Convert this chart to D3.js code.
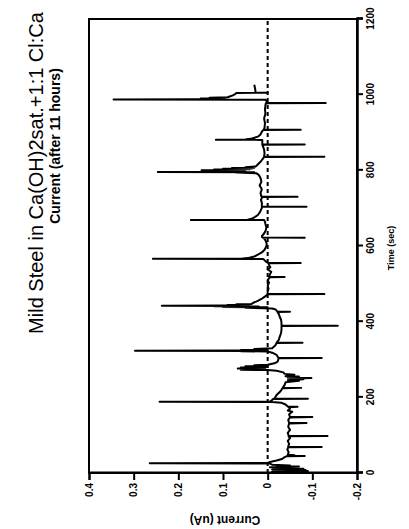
<!DOCTYPE html>
<html><head><meta charset="utf-8">
<script src="https://cdn.jsdelivr.net/npm/d3@7"></script>
<style>body{margin:0;background:#fff}svg{display:block}</style>
</head><body>
<script>
const title = "Mild Steel in Ca(OH)2sat.+1:1  Cl:Ca";
const subtitle = "Current (after 11 hours)";
const xLabel = "Time (sec)";
const yLabel = "Current (uA)";
const timeTicks = [0, 200, 400, 600, 800, 1000, 1200];
const currentTicks = [0.4, 0.3, 0.2, 0.1, 0, -0.1, -0.2];
const currentTickLabels = ["0.4", "0.3", "0.2", "0.1", "0", "-0.1", "-0.2"];
// [time (sec), current (uA)]
const trace = [
[0,-0.02],[2,-0.07],[3,-0.01],[5,-0.09],[6,-0.02],[8,-0.085],[9,-0.01],[11,-0.08],[12,-0.03],[14,-0.06],[15,-0.005],[17,-0.07],[18,-0.02],[20,-0.05],[22,-0.01],
[25,-0.005],[26,0.264],[26.6,0.0],[29,-0.005],[33,-0.02],[37,-0.032],[42,-0.038],
[44,-0.042],[45,-0.083],[45.6,-0.045],[47,-0.06],[48,-0.045],
[55,-0.047],[62,-0.044],[68,-0.046],[69,-0.121],[69.6,-0.046],
[77,-0.048],[85,-0.045],[92,-0.05],[97,-0.047],[98,-0.134],[98.6,-0.047],
[106,-0.045],[114,-0.05],[122,-0.046],[131,-0.048],[132,-0.087],[132.6,-0.048],
[140,-0.046],[147,-0.05],[148,-0.1],[148.6,-0.05],
[155,-0.048],[162,-0.055],[165,-0.045],[170,-0.05],[174,-0.047],[175,-0.067],[175.6,-0.045],
[181,-0.04],[186,-0.03],[187.5,-0.01],[188,0.242],[188.6,-0.005],[193,-0.01],[195.5,-0.012],[196,-0.09],[196.6,-0.015],
[206,-0.02],[214,-0.027],[220,-0.031],[224,-0.033],[225,-0.075],[225.6,-0.034],[233,-0.038],[240,-0.04],
[244,-0.07],[245,-0.045],[248,-0.08],[249,-0.05],[251,-0.098],[251.6,-0.045],[255,-0.07],[256,-0.04],[260,-0.06],[262,-0.038],[266,-0.035],[270,-0.02],
[272,0.0],[273,0.06],[274,0.005],[276,0.067],[277,0.01],[279,0.06],[280,0.0],[282,0.05],[283,0.0],[285,0.03],[286,0.0],
[290,-0.015],[294,-0.022],[300,-0.024],[303.5,-0.024],[304,-0.121],[304.6,-0.024],[312,-0.02],[318,-0.01],[321,0.0],
[322,0.06],[322.5,0.01],[323,0.297],[323.6,0.08],[324.2,0.02],[325,0.06],[326,0.0],[328,0.03],[330,-0.01],
[337,-0.017],[343.5,-0.02],[344,-0.078],[344.6,-0.02],[352,-0.025],[360,-0.027],[370,-0.03],[380,-0.031],[388.5,-0.031],[389,-0.157],[389.6,-0.031],
[397,-0.031],[405,-0.03],[413,-0.027],[420,-0.025],[425.5,-0.022],[426,-0.05],[426.6,-0.022],[432,-0.018],[435,-0.01],
[437,0.05],[438,0.0],[439,0.1],[440,0.02],[441,0.12],[441.5,0.04],[442,0.237],[442.6,0.1],[443.3,0.04],[444,0.09],[445,0.04],[446,0.07],[447,0.036],
[450,0.032],[455,0.022],[460,0.014],[465,0.008],[469,0.003],[472.5,0.001],[473,-0.127],[473.6,0.0],
[480,0.0],[487,-0.002],[495,0.0],[503,-0.003],[510,0.0],[517.5,-0.005],[518,-0.038],[518.6,-0.003],[525,-0.005],[532,-0.008],[538,0.0],[544,-0.006],[550,-0.003],
[554.5,-0.002],[555,-0.074],[555.6,0.0],[560,0.005],[565.5,0.01],[566,0.257],[566.6,0.06],
[568,0.045],[572,0.03],[577,0.022],[583,0.013],[590,0.007],[597,0.004],[603,0.002],[610,0.003],[617,0.006],[621.5,0.01],[622,-0.083],[622.6,0.012],
[626,0.013],[633,0.008],[642,0.004],[650,0.003],[658,0.005],[664,0.006],[668.5,0.008],[669,0.172],[669.6,0.045],
[672,0.036],[677,0.028],[682,0.022],[690,0.017],[701,0.013],[703.5,0.013],[704,-0.087],[704.6,0.013],[714,0.013],[722,0.015],[729.5,0.012],[730,-0.067],[730.6,0.014],
[740,0.016],[750,0.013],[760,0.018],[770,0.014],[780,0.016],[788,0.02],[792,0.025],
[794,0.07],[795,0.03],[795.5,0.246],[796.2,0.1],[797,0.05],[798,0.13],[799,0.06],[800,0.148],[801,0.05],[802,0.12],[803,0.04],[804,0.1],[805,0.035],[806,0.08],[807,0.03],[808,0.05],[810,0.028],
[812,0.025],[818,0.02],[824,0.015],[830,0.011],[835.5,0.008],[836,-0.127],[836.6,0.008],[845,0.007],[855,0.008],[862,0.01],[867.5,0.012],[868,-0.083],[868.6,0.012],
[875,0.012],[880.5,0.012],[881,0.116],[881.6,0.05],
[884,0.035],[889,0.022],[895,0.016],[902,0.013],[906.5,0.01],[907,-0.074],[907.6,0.009],[913,0.007],[925,0.006],[937,0.008],[950,0.005],[962,0.006],[972,0.005],
[977.5,0.004],[978,-0.13],[978.6,0.003],[983,0.002],[986.5,0.005],[987,0.345],[987.6,0.17],
[988.5,0.1],[990,0.15],[991,0.095],[992,0.13],[993,0.09],[995,0.085],[998,0.078],[1002,0.072],[1004.5,0.07],[1005,0.0],[1005.5,0.027],[1015,0.028],[1026,0.03]
];

const W = 409, H = 529;
const svg = d3.select("body").append("svg").attr("width", W).attr("height", H);
// chart is drawn in an unrotated frame (529 x 409) then turned -90 degrees
const g = svg.append("g").attr("transform", `translate(0,${H}) rotate(-90)`);

const x = d3.scaleLinear().domain([0, 1200]).range([56, 510]);
const y = d3.scaleLinear().domain([-0.2, 0.4]).range([357, 89]);
const font = "'Liberation Sans', Arial, sans-serif";

// frame
g.append("rect").attr("x", x(0)).attr("y", y(0.4)).attr("width", x(1200) - x(0)).attr("height", y(-0.2) - y(0.4))
  .attr("fill", "none").attr("stroke", "#000").attr("stroke-width", 2);

// zero dashed line
g.append("line").attr("x1", x(0)).attr("x2", x(1200)).attr("y1", y(0)).attr("y2", y(0))
  .attr("stroke", "#000").attr("stroke-width", 2).attr("stroke-dasharray", "4,3");

// trace
const line = d3.line().x(d => x(d[0])).y(d => y(d[1]));
g.append("path").datum(trace).attr("d", line).attr("fill", "none").attr("stroke", "#000")
  .attr("stroke-width", 2).attr("stroke-linejoin", "round");

// time axis
const xAxis = g.append("g").attr("transform", `translate(0,${y(-0.2)})`)
  .call(d3.axisBottom(x).tickValues(timeTicks).tickSize(6).tickPadding(4).tickFormat(d3.format("d")));
xAxis.select(".domain").attr("stroke-width", 2.5);
xAxis.selectAll(".tick line").attr("stroke-width", 2);
xAxis.selectAll("text").attr("font-family", font).attr("font-size", 10).attr("font-weight", "bold");

// current axis
const yAxis = g.append("g").attr("transform", `translate(${x(0)},0)`)
  .call(d3.axisLeft(y).tickValues(currentTicks).tickSize(7).tickPadding(3)
    .tickFormat((d, i) => currentTickLabels[i]));
yAxis.select(".domain").attr("stroke-width", 2);
yAxis.selectAll(".tick line").attr("stroke-width", 2);
yAxis.selectAll("text").attr("font-family", font).attr("font-size", 10).attr("font-weight", "bold");

// axis titles
g.append("text").attr("x", 281).attr("y", 394).attr("text-anchor", "middle")
  .attr("font-family", font).attr("font-size", 9).attr("font-weight", "bold").text(xLabel);
g.append("text").attr("transform", "translate(13,225) rotate(-90)").attr("text-anchor", "middle")
  .attr("font-family", font).attr("font-size", 12).attr("font-weight", "bold").text(yLabel);

// titles
g.append("text").attr("x", 356).attr("y", 43).attr("text-anchor", "middle")
  .attr("font-family", font).attr("font-size", 20).text(title);
g.append("text").attr("x", 383).attr("y", 60).attr("text-anchor", "middle")
  .attr("font-family", font).attr("font-size", 14).attr("font-weight", "bold").text(subtitle);
</script>
</body></html>
